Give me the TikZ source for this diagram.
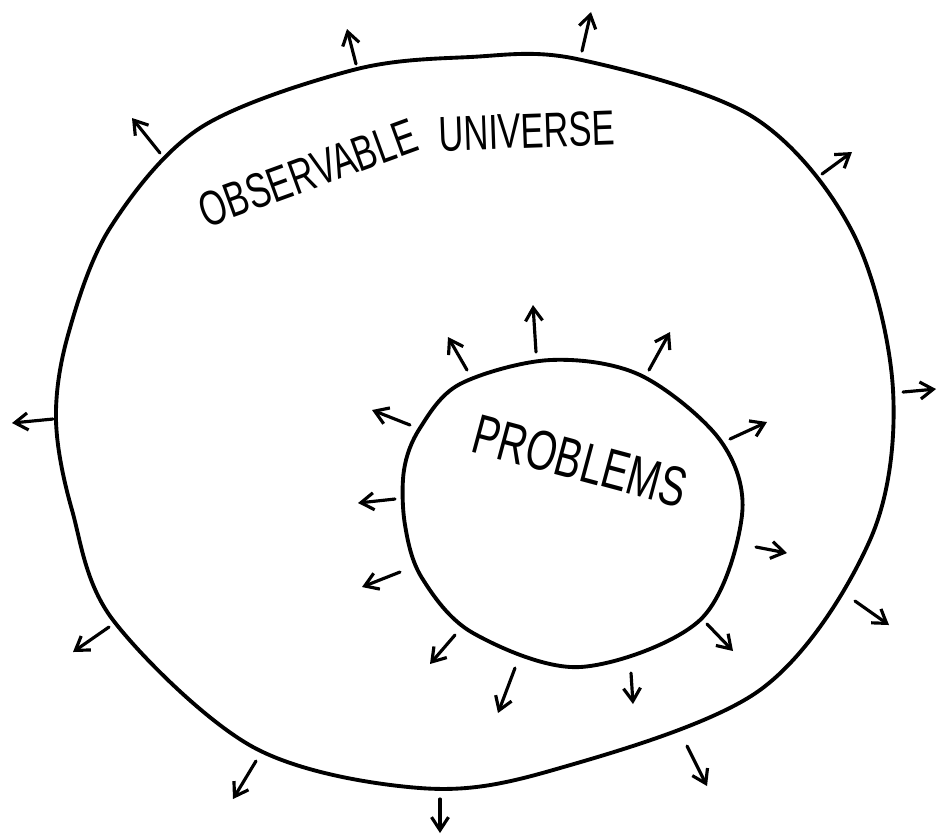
\documentclass[tikz,border=0pt]{standalone}
\usepackage{fontspec}
\setmainfont{Liberation Sans}
\newfontfamily\handfont[FakeStretch=0.7]{Liberation Sans}
\usetikzlibrary{arrows.meta}

\begin{document}
\begin{tikzpicture}[x=0.1mm,y=-0.1mm,line cap=round,line join=round,
 rim/.style={line width=1.1pt},
 ray/.style={line width=0.9pt,-{Straight Barb[length=1.3mm,width=1.7mm]}},
 hand/.style={inner sep=0pt,font=\handfont\fontsize{14}{14}\selectfont}]
\useasboundingbox (0,0) rectangle (938,835);
% the universe
\draw[rim] plot[smooth cycle,tension=0.55] coordinates {
 (56,420) (68,335) (110,228) (200,128) (353,70) (470,57) (577,59) (753,117)
 (853,233) (893,390) (870,540) (760,690) (553,770) (420,788) (253,747)
 (113,620) (72,510)};
% the problems
\draw[rim] plot[smooth cycle,tension=0.55] coordinates {
 (404,470) (420,428) (460,384) (550,360) (640,375) (720,440) (742,515)
 (700,620) (580,667) (473,633) (422,578) (405,525)};
% labels
\node[hand,rotate=20] (obs) at (308,173) {OBSERVABLE};
\node[hand,rotate=2] (uni) at (527,131) {UNIVERSE};
\node[hand,rotate=-15,font=\handfont\fontsize{16}{16}\selectfont] (prob)
 at (580,461) {PROBLEMS};
% outer rays
\foreach \xa/\ya/\xb/\yb in {160/153/132/118, 356/64/347/29, 582/51/591/12,
 822/174/852/152, 903/392/936/389, 855/601/889/625, 687/746/707/786,
 440/799/440/833, 256/761/233/799, 109/627/73/652, 53/419/12/423}
 \draw[ray] (\xa,\ya) -- (\xb,\yb);
% inner rays
\foreach \xa/\ya/\xb/\yb in {410/425/372/410, 395/499/358/503, 400/572/362/587,
 455/635/430/664, 515/668/498/713, 631/673/633/704, 707/624/733/651,
 756/547/787/553, 730/439/767/422, 649/370/670/332, 536/352/533/305,
 467/370/448/337}
 \draw[ray] (\xa,\ya) -- (\xb,\yb);
\end{tikzpicture}
\end{document}
